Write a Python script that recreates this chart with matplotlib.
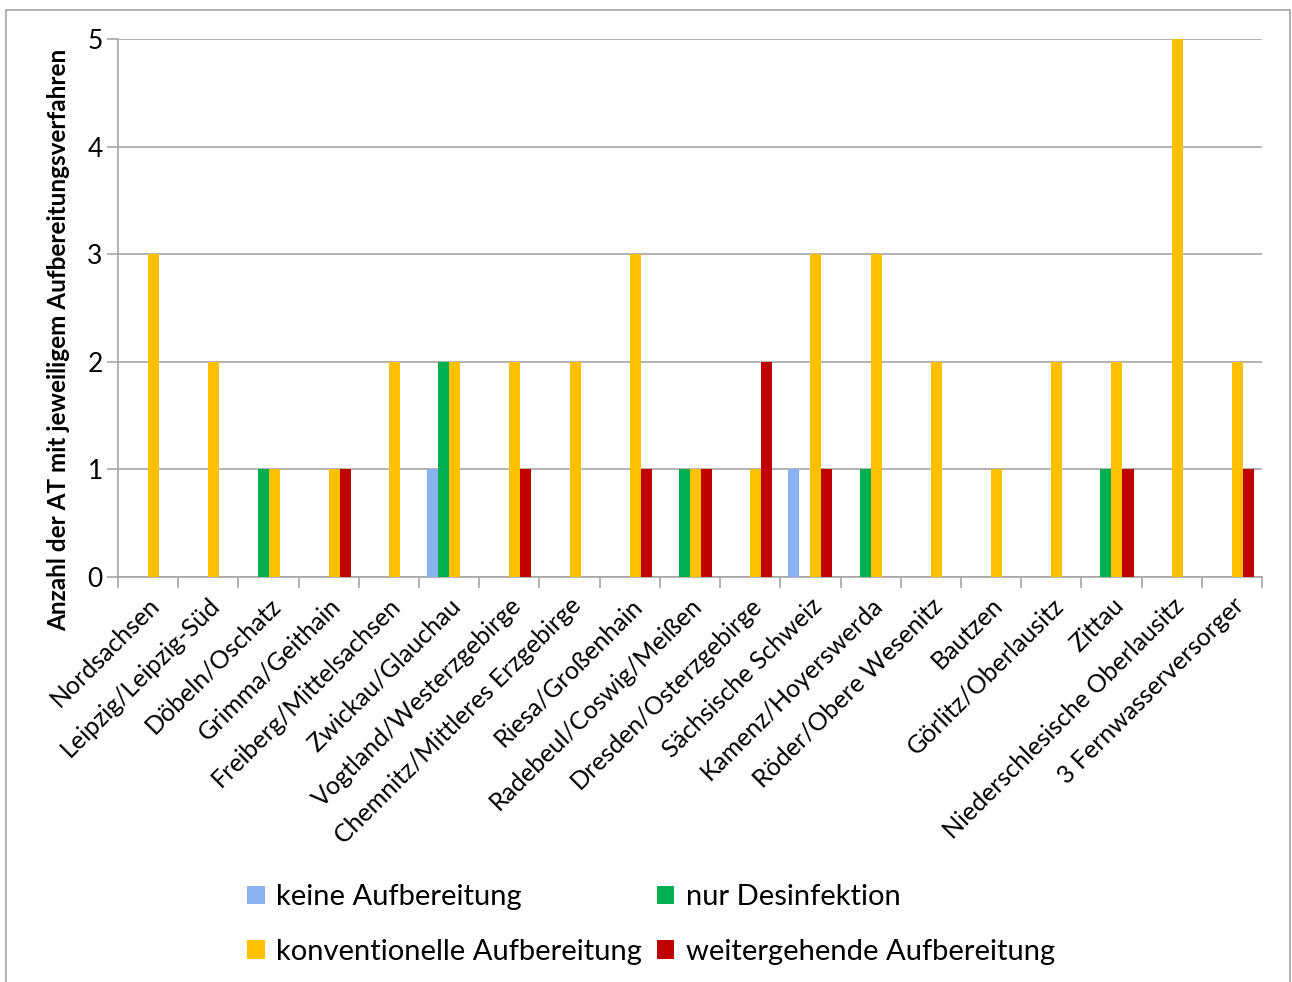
import matplotlib.pyplot as plt
import numpy as np
from matplotlib.patches import Rectangle

plt.rcParams['font.family'] = ['Lato', 'DejaVu Sans']

regionen = ['Nordsachsen', 'Leipzig/Leipzig-Süd', 'Döbeln/Oschatz', 'Grimma/Geithain',
            'Freiberg/Mittelsachsen', 'Zwickau/Glauchau', 'Vogtland/Westerzgebirge',
            'Chemnitz/Mittleres Erzgebirge', 'Riesa/Großenhain', 'Radebeul/Coswig/Meißen',
            'Dresden/Osterzgebirge', 'Sächsische Schweiz', 'Kamenz/Hoyerswerda',
            'Röder/Obere Wesenitz', 'Bautzen', 'Görlitz/Oberlausitz', 'Zittau',
            'Niederschlesische Oberlausitz', '3 Fernwasserversorger']

keine = [0, 0, 0, 0, 0, 1, 0, 0, 0, 0, 0, 1, 0, 0, 0, 0, 0, 0, 0]
desinf = [0, 0, 1, 0, 0, 2, 0, 0, 0, 1, 0, 0, 1, 0, 0, 0, 1, 0, 0]
konv = [3, 2, 1, 1, 2, 2, 2, 2, 3, 1, 1, 3, 3, 2, 1, 2, 2, 5, 2]
weiter = [0, 0, 0, 1, 0, 0, 1, 0, 1, 1, 2, 1, 0, 0, 0, 0, 1, 0, 1]

serien = [('keine Aufbereitung', keine, '#8AB2F2'),
          ('nur Desinfektion', desinf, '#00B050'),
          ('konventionelle Aufbereitung', konv, '#FFC000'),
          ('weitergehende Aufbereitung', weiter, '#C00000')]

fig = plt.figure(figsize=(12.92, 9.82), dpi=100)
ax = fig.add_axes([118 / 1292, 1 - 577 / 982, (1262 - 118) / 1292, (577 - 39) / 982])

x = np.arange(len(regionen))
w = 0.183
balken = []
for i, (name, vals, col) in enumerate(serien):
    balken.append(ax.bar(x + (i - 1.5) * w, vals, width=w, color=col, label=name, zorder=3))

ax.set_xlim(-0.5, len(regionen) - 0.5)
ax.set_ylim(0, 5)
ax.set_yticks(range(6))
ax.yaxis.grid(True, color='#A6A6A6', linewidth=1.2, zorder=0)
ax.tick_params(axis='y', length=8, width=1.2, color='#A6A6A6', labelsize=19, pad=3)

ax.set_xticks(x)
ax.set_xticklabels(regionen, rotation=45, ha='right', rotation_mode='anchor', fontsize=18)
ax.set_xticks(np.arange(-0.5, len(regionen)), minor=True)
ax.tick_params(axis='x', which='major', length=0, pad=12)
ax.tick_params(axis='x', which='minor', length=8, width=1.2, color='#A6A6A6')

for s in ['top', 'right']:
    ax.spines[s].set_visible(False)
for s in ['left', 'bottom']:
    ax.spines[s].set_color('#A6A6A6')
    ax.spines[s].set_linewidth(1.2)

ax.set_ylabel('Anzahl der AT mit jeweiligem Aufbereitungsverfahren', fontsize=17.5,
              fontweight='bold')
ax.yaxis.set_label_coords(-48 / 1144, 0.44)

# Legende zeilenweise: keine / nur, konventionell / weitergehend
reihenfolge = [0, 2, 1, 3]
fig.legend([balken[i] for i in reihenfolge], [serien[i][0] for i in reihenfolge],
           ncol=2, loc='upper left', bbox_to_anchor=(221 / 1292, 1 - 858 / 982),
           fontsize=21, frameon=False, handlelength=0.6, handleheight=0.6,
           handletextpad=0.4, columnspacing=0.5, labelspacing=0.97)

# Rahmen um das gesamte Diagramm
fig.patches.append(Rectangle((6 / 1292, -0.05), (1290 - 6) / 1292, 1.05 - 10 / 982,
                             transform=fig.transFigure, fill=False,
                             edgecolor='#A6A6A6', linewidth=1.2))

fig.savefig('out.png', dpi=100)
